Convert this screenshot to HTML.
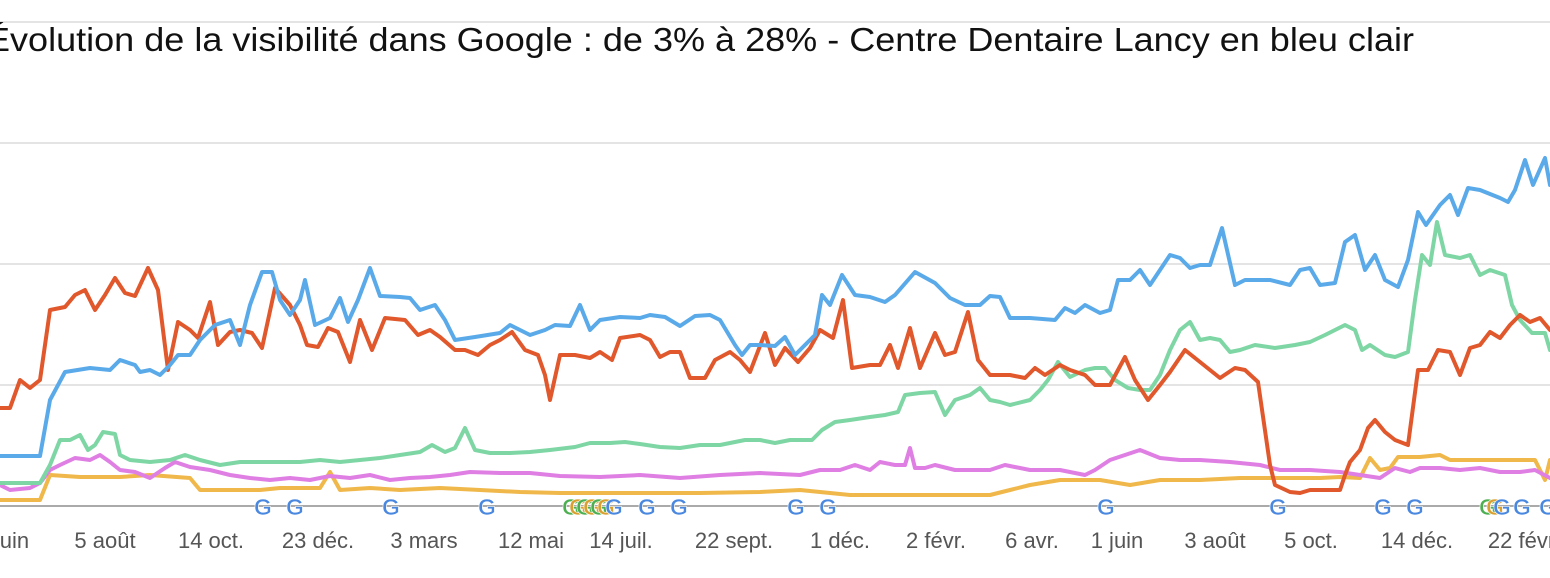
<!DOCTYPE html>
<html><head><meta charset="utf-8"><style>
body{margin:0;background:#fff;width:1550px;height:578px;overflow:hidden}
svg{display:block}
</style></head><body>
<svg width="1550" height="578" xmlns="http://www.w3.org/2000/svg" font-family="Liberation Sans, sans-serif">
<g stroke="#dcdcdc" stroke-width="1.5">
<line x1="0" y1="22" x2="1550" y2="22"/><line x1="0" y1="143" x2="1550" y2="143"/>
<line x1="0" y1="264" x2="1550" y2="264"/><line x1="0" y1="385" x2="1550" y2="385"/>
</g>
<line x1="0" y1="506" x2="1550" y2="506" stroke="#aaa" stroke-width="2"/>
<text x="-14" y="51" font-size="33" fill="#111" textLength="1428" lengthAdjust="spacingAndGlyphs">Évolution de la visibilité dans Google : de 3% à 28%  - Centre Dentaire Lancy en bleu clair</text>
<g fill="none" stroke-width="4" stroke-linejoin="round" stroke-linecap="round">
<polyline stroke="#f0b84a" points="0,500 40,500 50,475 80,477 100,477 120,477 150,475 190,478 200,490 230,490 260,490 280,488 320,488 330,472 340,490 370,488 400,490 440,488 480,490 520,492 560,493 600,493 650,493 700,493 760,492 800,490 820,492 850,495 900,495 950,495 990,495 1010,490 1030,485 1060,480 1100,480 1130,485 1160,480 1200,480 1240,478 1270,478 1300,478 1320,478 1340,477 1360,478 1370,458 1380,470 1390,468 1398,457 1420,457 1440,455 1450,460 1480,460 1510,460 1535,460 1540,470 1545,480 1550,460"/>
<polyline stroke="#df7fe3" points="0,485 10,490 30,488 40,483 50,470 60,465 75,458 90,460 100,455 110,462 120,470 135,472 150,478 165,468 175,462 190,467 210,470 230,475 250,478 270,480 290,478 310,480 330,476 350,478 370,475 390,480 410,478 430,477 450,475 470,472 500,473 530,473 560,476 600,477 640,475 680,478 720,475 760,473 800,475 820,470 840,470 855,465 870,470 880,462 895,465 905,465 910,448 915,468 925,468 935,465 955,470 975,470 990,470 1005,465 1030,470 1060,470 1085,475 1095,470 1110,460 1125,455 1140,450 1160,458 1180,460 1200,460 1230,462 1260,465 1280,470 1310,470 1340,472 1360,475 1380,478 1395,468 1410,472 1420,468 1440,468 1460,470 1480,468 1500,472 1520,472 1535,470 1550,478"/>
<polyline stroke="#7fd6a5" points="0,483 40,483 50,465 60,440 70,440 80,435 88,450 95,445 103,432 115,434 120,455 130,460 150,462 170,460 185,455 200,460 220,465 240,462 260,462 280,462 300,462 320,460 340,462 360,460 380,458 400,455 420,452 432,445 445,452 455,448 465,428 475,450 490,453 510,453 530,452 550,450 575,447 590,443 610,443 625,442 640,444 660,447 680,448 700,445 720,445 735,442 745,440 760,440 775,443 790,440 800,440 812,440 822,430 835,422 850,420 870,417 885,415 898,412 905,395 920,393 935,392 945,415 955,400 970,395 980,388 990,400 1000,402 1010,405 1030,400 1040,390 1048,380 1058,362 1070,377 1085,370 1095,368 1105,368 1115,380 1128,388 1140,390 1150,390 1160,375 1170,350 1180,330 1190,322 1200,340 1210,338 1220,340 1230,352 1240,350 1255,345 1275,348 1295,345 1310,342 1325,335 1335,330 1345,325 1355,330 1362,350 1370,345 1385,355 1395,357 1408,352 1415,300 1422,255 1430,265 1437,222 1445,255 1460,258 1470,255 1480,275 1490,270 1505,275 1512,305 1520,320 1532,333 1545,333 1550,350"/>
<polyline stroke="#e0582c" points="0,408 10,408 20,380 30,388 40,380 50,310 65,307 75,295 85,290 95,310 105,295 115,278 125,293 135,296 148,268 158,290 168,370 178,322 190,330 198,338 210,302 218,345 230,332 240,330 252,333 262,348 275,288 290,305 300,325 307,345 318,347 328,328 338,332 350,362 360,320 372,350 385,318 405,320 418,335 430,330 440,337 455,350 465,350 478,355 490,345 500,340 512,332 525,350 538,355 545,375 550,400 560,355 575,355 590,358 600,352 612,360 620,338 640,335 650,340 660,357 670,352 680,352 690,378 705,378 715,360 730,352 740,360 750,372 765,333 775,365 785,348 798,362 810,348 820,330 833,338 843,300 852,368 870,365 880,365 890,345 898,368 910,328 920,368 935,333 945,355 955,352 968,312 978,360 990,375 1010,375 1025,378 1035,368 1045,375 1060,365 1070,370 1085,375 1095,385 1110,385 1118,370 1125,357 1135,380 1148,400 1160,385 1170,372 1185,350 1195,358 1210,370 1220,378 1235,368 1245,370 1258,382 1270,465 1275,485 1290,492 1300,493 1310,490 1340,490 1345,475 1350,462 1360,450 1368,428 1375,420 1385,432 1395,440 1408,445 1418,370 1428,370 1438,350 1450,352 1460,375 1470,348 1480,345 1490,332 1500,338 1510,325 1520,315 1530,322 1540,318 1550,330"/>
<polyline stroke="#5aaaea" points="0,456 40,456 50,400 65,372 90,368 110,370 120,360 135,365 140,372 150,370 160,375 170,365 178,355 190,355 200,340 215,325 230,320 240,345 250,305 262,272 272,272 280,300 290,315 300,300 305,280 315,325 330,318 340,298 348,322 358,300 370,268 380,296 400,297 410,298 420,310 435,305 445,320 455,340 475,337 500,333 510,325 530,335 545,330 555,325 570,326 580,305 590,330 600,320 620,317 640,318 650,315 665,317 680,326 695,316 710,315 720,320 735,345 742,355 750,345 760,345 775,346 785,337 795,355 805,345 815,335 822,295 830,305 842,275 855,295 870,297 885,302 895,295 915,272 935,283 950,298 965,305 980,305 990,296 1000,297 1010,318 1030,318 1055,320 1065,308 1075,313 1085,305 1100,313 1110,310 1118,280 1130,280 1140,270 1150,285 1160,270 1170,255 1180,258 1190,268 1200,265 1210,265 1222,228 1235,285 1245,280 1270,280 1290,285 1300,270 1310,268 1320,285 1335,283 1345,242 1355,235 1365,270 1375,255 1385,280 1398,287 1408,260 1418,212 1426,225 1440,205 1450,195 1458,215 1468,188 1480,190 1500,198 1508,202 1515,190 1525,160 1533,185 1545,158 1550,185"/>
</g>
<g font-size="23" font-weight="bold" text-anchor="middle" fill="#4a88e0" stroke="#fff" stroke-width="0.6">
<text x="263" y="515">G</text><text x="295" y="515">G</text><text x="391" y="515">G</text><text x="487" y="515">G</text>
<text x="571" y="515" fill="#4caf50">G</text><text x="578" y="515" fill="#d9a030">G</text><text x="585" y="515" fill="#4caf50">G</text><text x="592" y="515" fill="#d9a030">G</text><text x="599" y="515" fill="#4caf50">G</text><text x="606" y="515" fill="#d9a030">G</text><text x="614" y="515">G</text>
<text x="647" y="515">G</text><text x="679" y="515">G</text><text x="796" y="515">G</text><text x="828" y="515">G</text>
<text x="1106" y="515">G</text><text x="1278" y="515">G</text><text x="1383" y="515">G</text><text x="1415" y="515">G</text>
<text x="1488" y="515" fill="#4caf50">G</text><text x="1495" y="515" fill="#d9a030">G</text><text x="1502" y="515">G</text><text x="1522" y="515">G</text><text x="1548" y="515">G</text>
</g>
<g font-size="22" fill="#555" text-anchor="middle">
<text x="12" y="548">juin</text><text x="105" y="548">5 août</text><text x="211" y="548">14 oct.</text><text x="318" y="548">23 déc.</text>
<text x="424" y="548">3 mars</text><text x="531" y="548">12 mai</text><text x="621" y="548">14 juil.</text><text x="734" y="548">22 sept.</text>
<text x="840" y="548">1 déc.</text><text x="936" y="548">2 févr.</text><text x="1032" y="548">6 avr.</text><text x="1117" y="548">1 juin</text>
<text x="1215" y="548">3 août</text><text x="1311" y="548">5 oct.</text><text x="1417" y="548">14 déc.</text><text x="1524" y="548">22 févr.</text>
</g>
</svg>
</body></html>
